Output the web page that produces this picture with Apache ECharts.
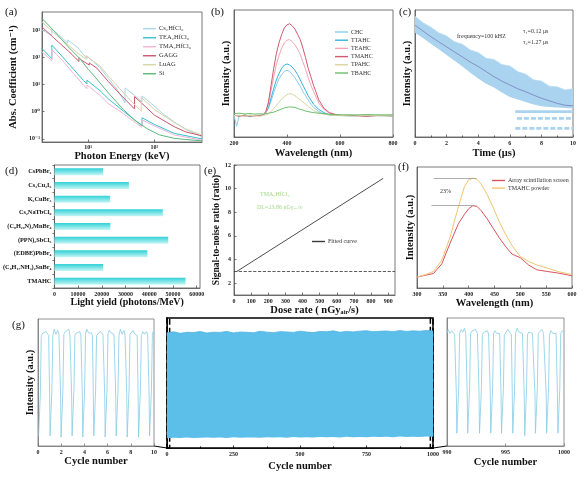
<!DOCTYPE html>
<html lang="en">
<head>
<meta charset="UTF-8">
<title>TMAHC scintillator figure</title>
<style>html,body{margin:0;padding:0;background:#fff;} #chart{width:586px;height:479px;}</style>
</head>
<body>
<div id="chart"></div>
<script src="https://cdn.jsdelivr.net/npm/echarts@6/dist/echarts.min.js"></script>
<script>
// ---------- (a) absorption coefficient, [keV, cm^-1] ----------
var absCs2HfCl6 = [[2,1000],[2.82,650],[2.82,1100],[4,520],[4.9,330],[4.9,430],[5.7,330],[5.7,390],[7,220],[8.5,125],[9.56,90],[9.56,112],[10.7,88],[10.7,100],[11.3,90],[11.3,98],[15,42],[20,17],[28,6],[36,2.1],[36,7.5],[50,4],[65,2.3],[65,3.8],[90,2],[130,0.9],[200,0.42],[300,0.22],[525,0.12]];
var absTEA2HfCl6 = [[2,210],[2.82,88],[2.82,280],[4,110],[6,36],[8.5,14],[9.56,10.5],[9.56,14.5],[10.7,11.5],[10.7,13],[11.3,12],[11.3,13],[15,6],[20,3],[34,1.05],[50,0.5],[65,0.3],[65,0.6],[100,0.34],[200,0.16],[525,0.1]];
var absTMA2HfCl6 = [[2,157],[2.82,75],[2.82,190],[4,80],[6,25],[8.5,9.5],[9.56,7],[9.56,9.5],[10.7,7.8],[10.7,8.7],[11.3,8],[11.3,8.6],[15,4],[20,2],[34,0.85],[50,0.42],[65,0.27],[65,0.5],[100,0.3],[200,0.14],[525,0.09]];
var absGAGG = [[2,1300],[3,520],[5,170],[7.24,70],[7.24,95],[7.93,78],[7.93,88],[8.38,80],[8.38,86],[10.37,52],[10.37,62],[13.5,40],[20,13],[30,4.5],[50.2,1.25],[50.2,3.6],[70,1.7],[100,0.75],[200,0.28],[300,0.18],[525,0.13]];
var absLuAG = [[2,2000],[3,800],[5,280],[7,140],[9.24,85],[9.24,115],[10.14,95],[10.14,108],[10.87,98],[10.87,105],[15,48],[20,21],[30,7],[45,2.4],[63.3,1.05],[63.3,3.4],[100,1.2],[200,0.4],[300,0.23],[525,0.14]];
var absSi = [[2,2700],[3,950],[5,240],[7.6,85],[10,36],[12,22],[20,5],[34,1.2],[50,0.5],[77,0.24],[120,0.14],[200,0.105],[300,0.095],[525,0.085]];

// ---------- (b) radioluminescence ----------
var wlB = [200,210,220,240,260,280,300,310,320,330,340,350,360,370,380,390,400,410,420,430,440,450,460,470,480,490,500,520,540,560,580,600,650,700,750,800];
var rlCHC   = [0.2,-10,0.5,-0.3,0.6,0.1,0.3,1,3,7,14,22,29,35,39,42,43,42,39,36,32,28,23,19,15,11,8,4,2,1,0.4,0.3,-0.3,0.4,0,0.3];
var rlTTAHC = [0.6,0.3,0,0.4,-0.5,0.3,0.5,1,3,8,17,26,34,40,45,48,49,48,46,43,39,34,29,24,19,15,11,6,3,1,0.5,0.2,0.5,0,0.4,-0.2];
var rlTEAHC = [0.3,0.5,0.6,-0.4,0.5,-0.2,0.4,1,3.5,11,24,37,49,57,64,69,71.5,72,70,67,63,58,51,44,36,29,23,12,6,2.5,1,0.4,0.6,-0.2,0.3,0.2];
var rlTMAHC = [0.5,0.2,-0.5,0.8,-0.3,0.4,0.2,1,4,13,29,45,59,69,77,83,86,87,85,82,77,72,64,55,45,37,29,15,7,3,1.5,0.5,0.3,-0.4,0.5,0];
var rlTPAHC = [0.4,0.1,0.2,-0.3,0.5,0.1,-0.4,0.5,1,2,4,7,10,13,16,18,20,21,20.5,19,17,15,13,11,9,7,5,3,1.5,0.8,0.3,0.4,-0.2,0.5,0.2,0];
var rlTBAHC = [2,2.3,2.5,1.8,2.2,1.6,2,1.5,2,2.5,3,3.5,4.5,5.5,6.5,7.5,8,8.5,8.2,8,7,6,5.5,4.5,4,3.5,3,2.5,2,1.5,1.2,1,0.8,1.2,0.9,1];

// ---------- (c) decay ----------
var tC       = [0,0.5,1,1.5,2,2.5,3,3.5,4,4.5,5,5.5,6,6.5,7,7.5,8,8.5,9,9.5,10];
var decayTop = [95,90,86.5,82,79.5,75,73,68.5,66.5,62,61,57,56,51.5,49.5,45,44,40,39.5,37,38];
var decayBot = [82,78,73.5,69,64.5,60,55.5,50.5,46,42,39,35,31.5,29.5,27.5,25.5,24.3,23.6,23.2,22.8,22.5];
var decayFit = [88,83.5,79,75,71,67,63,59,55.5,51.5,47.5,44,41,38,35.7,33,30.5,28.5,26.5,25,24.5];
var decayRows = [[6.35,20],[6.45,14.7],[6.35,6.8]];

// ---------- (d) light yield ----------
var catsD = ['CsPbBr₃','Cs₃Cu₂I₅','K₂CuBr₃','Cs₂NaTbCl₆','(C₈H₂₀N)₂MnBr₄','(PPN)₂SbCl₅','(EDBE)PbBr₄','(C₈H₁₇NH₃)₂SnBr₄','TMAHC'];
var lyD = [20500,31400,23500,45700,23600,48000,39200,20500,55300];

// ---------- (e) SNR vs dose rate ----------
var snrFit = [[17,3.0],[871,10.87]];
var snrThreshold = 3;

// ---------- (f) screen vs powder ----------
var wlF = [300,316,332,348,364,380,392,400,408,416,424,436,448,460,472,484,500,516,532,552,572,590,600];
var plPowder = [9,11,13.7,23,42,67,84,89.5,90.7,90,86,77,66,54,44,35,26,22,19,16.5,13.7,12,11];
var plArray  = [9,10.5,12,20,37,53,61,65.5,68,67.5,64,57,49,41,34,28,25,19,15,13.7,12.4,11,10];
var peakLines = [[328,412,68],[332,415,90.7]];

// ---------- (g) cycling ----------
var cycFirst = [[0.05,8],[0.12,7],[0.2,40],[0.28,86],[0.4,89],[0.55,88],[0.7,90],[0.85,89],[0.92,87],
 [1.0,40],[1.04,8],[1.16,7],[1.2,45],[1.28,87],[1.4,92],[1.55,88],[1.7,91],[1.8,88],[1.87,87],
 [1.95,40],[1.99,7],[2.11,7],[2.15,45],[2.23,88],[2.35,90],[2.5,89],[2.65,92],[2.75,88],[2.82,87],
 [2.9,40],[2.94,8],[3.06,8],[3.1,45],[3.18,87],[3.3,89],[3.45,88],[3.6,90],[3.7,87],
 [3.82,40],[3.86,7],[3.98,7],[4.02,45],[4.1,88],[4.2,92],[4.35,89],[4.5,88],[4.62,89],[4.69,87],
 [4.77,40],[4.81,8],[4.93,8],[4.97,45],[5.05,87],[5.2,88],[5.35,90],[5.5,89],[5.6,88],[5.67,87],
 [5.75,40],[5.79,7],[5.91,7],[5.95,45],[6.03,88],[6.15,91],[6.3,89],[6.45,90],[6.55,88],[6.62,87],
 [6.7,40],[6.74,8],[6.86,7],[6.9,45],[6.98,87],[7.1,92],[7.25,88],[7.4,91],[7.5,88],[7.57,87],
 [7.65,40],[7.69,7],[7.81,8],[7.85,45],[7.93,88],[8.05,89],[8.2,91],[8.35,88],[8.48,89],[8.55,87],
 [8.63,40],[8.67,7],[8.79,7],[8.83,45],[8.91,87],[9.05,90],[9.2,88],[9.35,90],[9.45,88],[9.5,87],
 [9.58,40],[9.62,8],[9.74,7],[9.78,45],[9.86,88],[9.93,90],[10,88]];
var cycLast = [[990,88],[990.1,91],[990.25,88],[990.4,90],[990.55,89],[990.65,87],
 [990.8,40],[990.84,10],[990.96,9],[991.0,45],[991.08,88],[991.2,91],[991.35,89],[991.5,92],[991.6,88],[991.65,87],
 [991.73,40],[991.77,10],[991.89,10],[991.93,45],[992.01,88],[992.15,90],[992.3,89],[992.45,91],[992.6,88],[992.66,87],
 [992.74,40],[992.78,10],[992.9,11],[992.94,45],[993.02,87],[993.15,89],[993.3,88],[993.45,90],[993.55,88],[993.62,87],
 [993.7,40],[993.74,10],[993.86,9],[993.9,45],[993.98,88],[994.1,90],[994.25,88],[994.4,89],[994.5,88],[994.54,87],
 [994.62,40],[994.66,10],[994.78,10],[994.82,45],[994.9,87],[995.05,88],[995.2,91],[995.35,89],[995.45,88],[995.5,87],
 [995.58,40],[995.62,10],[995.74,10],[995.78,45],[995.86,88],[996.0,92],[996.15,89],[996.3,90],[996.45,88],[996.52,87],
 [996.6,40],[996.64,8],[996.76,8],[996.8,45],[996.88,87],[997.0,89],[997.15,90],[997.3,88],[997.4,89],[997.44,87],
 [997.52,40],[997.56,10],[997.68,10],[997.72,45],[997.8,88],[997.95,89],[998.1,91],[998.25,88],[998.35,89],[998.4,87],
 [998.48,40],[998.52,10],[998.64,9],[998.68,45],[998.76,87],[998.9,90],[999.05,88],[999.2,89],[999.32,88],[999.36,87],
 [999.44,40],[999.48,10],[999.6,10],[999.64,45],[999.72,88],[999.85,90],[1000,89]];
var g2Cycles = [0,25,50,75,100,125,150,175,200,225,250,275,300,325,350,375,400,425,450,475,500,525,550,575,600,625,650,675,700,725,750,775,800,825,850,875,900,925,950,975,1000];
var g2Top = [88.6,89.4,88.2,89.0,88.8,89.6,88.4,89.1,88.9,89.7,88.5,89.2,89.0,88.6,89.8,89.1,88.7,89.5,89.3,88.9,89.9,89.2,88.8,89.6,89.4,90.1,89.0,89.7,89.3,89.9,90.2,89.4,89.8,90.0,89.5,90.3,89.7,90.1,89.8,90.4,90.0];
var g2Bot = [7.5,7.9,7.6,8.0,7.7,7.9,8.1,7.8,8.0,7.7,8.2,7.9,8.1,8.0,7.8,8.3,8.0,8.2,7.9,8.4,8.1,8.3,8.0,8.5,8.2,8.4,8.1,8.6,8.3,8.5,8.2,8.7,8.4,8.6,8.3,8.8,8.5,8.7,8.4,8.9,8.6];
var zoomWindows = [[0,10],[990,1000]];

// ---------- layout ----------
var GA = {left:42, top:12, width:160, height:130};
var GB = {left:234, top:10, width:159, height:127};
var GC = {left:415, top:10, width:158, height:127};
var GD = {left:50, top:165, width:150, height:123};
var GE = {left:234, top:165, width:161, height:130};
var GF = {left:417, top:167, width:155, height:121};
var G1 = {left:38, top:319, width:116, height:127};
var G2 = {left:167, top:318, width:266, height:130};
var G3 = {left:447, top:318, width:117, height:128};

var SERIF = '"Liberation Serif", "DejaVu Serif", serif';
var SUP = {'-1':'⁻¹','0':'⁰','1':'¹','2':'²','3':'³'};

function merge(base, extra) {
    for (var k in extra) {
        var v = extra[k];
        if (v && typeof v === 'object' && !Array.isArray(v) && base[k] && typeof base[k] === 'object' && !(v instanceof echarts.graphic.LinearGradient)) merge(base[k], v);
        else base[k] = v;
    }
    return base;
}
function grid(g, col, w) {
    return merge({show:true, borderColor: col || '#555', borderWidth: w || 0.8, containLabel:false}, g);
}
function plain(v) { return String(v); }
function axis(gi, extra, col) {
    col = col || '#555';
    return merge({
        type:'value', gridIndex: gi,
        axisLine:{show:true, onZero:false, lineStyle:{color:col, width:0.8}},
        axisTick:{show:true, inside:true, length:2.5, lineStyle:{color:col, width:0.8}},
        axisLabel:{show:true, fontSize:6, fontWeight:'bold', fontFamily:SERIF, color:'#222', margin:3},
        splitLine:{show:false},
        nameLocation:'middle',
        nameTextStyle:{fontSize:10.5, fontWeight:'bold', fontFamily:SERIF, color:'#111'}
    }, extra || {});
}
var noLab = {axisLabel:{show:false}, axisTick:{show:false}};
function pair(xs, ys) { return xs.map(function (x, i) { return [x, ys[i]]; }); }
function line(name, xi, data, color, w) {
    return {name:name, type:'line', xAxisIndex:xi, yAxisIndex:xi, data:data, showSymbol:false,
        lineStyle:{color:color, width:w || 1}, itemStyle:{color:color}, silent:true};
}
// filled band between two envelopes, drawn as one polygon through the axes' scales
function band(xi, xs, top, bot, color) {
    return {type:'custom', xAxisIndex:xi, yAxisIndex:xi, silent:true, data:[[xs[0], bot[0]]],
        renderItem:function (params, api) {
            var pts = [], i;
            for (i = 0; i < xs.length; i++) pts.push(api.coord([xs[i], top[i]]));
            for (i = xs.length - 1; i >= 0; i--) pts.push(api.coord([xs[i], bot[i]]));
            return {type:'polygon', shape:{points:pts}, style:{fill:color}};
        }};
}
function legend(names, left, top, rowH, gap, fs) {
    return {data:names, left:left, top:top, orient:'vertical', icon:'rect', itemWidth:13, itemHeight:1.4,
        itemGap:gap, padding:0, selectedMode:false,
        textStyle:{fontSize:fs || 6, fontFamily:SERIF, color:'#333', lineHeight:rowH, padding:[0,0,0,-2]}};
}
function txt(s, left, top, fs, color, weight) {
    return {type:'text', left:left, top:top, silent:true,
        style:{text:s, fontSize:fs, fontFamily:SERIF, fontWeight:weight || 'normal', fill:color || '#111'}};
}
function logLab(v) { var e = Math.round(Math.log(v) / Math.LN10); return '10' + (SUP[e] || ''); }

var series = [];
// (a)
series.push(line('Cs₂HfCl₆', 0, absCs2HfCl6, '#a7d6ea'));
series.push(line('TEA₂HfCl₆', 0, absTEA2HfCl6, '#35c2cf'));
series.push(line('TMA₂HfCl₆', 0, absTMA2HfCl6, '#efb5d7'));
series.push(line('GAGG', 0, absGAGG, '#c9566e'));
series.push(line('LuAG', 0, absLuAG, '#d7d4a6'));
series.push(line('Si', 0, absSi, '#5cb97b'));
// (b)
series.push(line('CHC', 1, pair(wlB, rlCHC), '#8fcdea'));
series.push(line('TTAHC', 1, pair(wlB, rlTTAHC), '#36b3dc'));
series.push(line('TEAHC', 1, pair(wlB, rlTEAHC), '#f1a6b9'));
series.push(line('TMAHC', 1, pair(wlB, rlTMAHC), '#d05a70'));
series.push(line('TPAHC', 1, pair(wlB, rlTPAHC), '#d9d59e'));
series.push(line('TBAHC', 1, pair(wlB, rlTBAHC), '#6cbf6c'));
// (c)
series.push(band(2, tC, decayTop, decayBot, '#a9d3ee'));
series.push(line('cTop', 2, pair(tC, decayTop), '#b9dcf2', 0.8));
decayRows.forEach(function (r, i) {
    var s = line('cRow' + i, 2, [[r[0], r[1]], [10, r[1]]], '#a9d3ee', 2.6);
    if (i > 0) s.lineStyle.type = [5, 2];
    series.push(s);
});
series.push(line('cFit', 2, pair(tC, decayFit), '#7e88c2', 0.9));
// (d)
series.push({name:'Light yield', type:'bar', xAxisIndex:3, yAxisIndex:3, data:lyD, barWidth:7, silent:true,
    itemStyle:{color:new echarts.graphic.LinearGradient(0,0,0,1,[{offset:0,color:'#2fd1d6'},{offset:1,color:'#c6f6f6'}])}});
// (e)
var eFit = line('Fitted curve', 4, snrFit, '#3a3a3a', 0.9);
eFit.markLine = {silent:true, symbol:['none','none'], label:{show:false},
    lineStyle:{type:'dashed', color:'#333', width:0.8}, data:[{yAxis:snrThreshold}]};
series.push(eFit);
// (f)
var fArr = line('Array scintillation screen', 5, pair(wlF, plArray), '#d8535f', 1);
var fPow = line('TMAHC powder', 5, pair(wlF, plPowder), '#f2c56e', 1);
fArr.markLine = {silent:true, symbol:['none','none'], label:{show:false}, lineStyle:{type:'solid', color:'#9a9a9a', width:0.8},
    data:peakLines.map(function (p) { return [{coord:[p[0], p[2]]}, {coord:[p[1], p[2]]}]; })};
series.push(fArr, fPow);
// (g)
series.push(line('g1', 6, cycFirst, '#86cce6', 0.8));
series.push(band(7, g2Cycles, g2Top, g2Bot, '#5cbfea'));
var gTop = line('gTop', 7, pair(g2Cycles, g2Top), '#4cb2e2', 0.8);
gTop.markArea = {silent:true, itemStyle:{color:'rgba(0,0,0,0)', borderColor:'#000', borderWidth:1.5, borderType:'dashed'},
    data:zoomWindows.map(function (w) { return [{coord:[w[0], 0]}, {coord:[w[1], 100]}]; })};
series.push(gTop);
series.push(line('g3', 8, cycLast, '#86cce6', 0.8));

var option = {
    animation:false,
    backgroundColor:'#fff',
    grid:[grid(GA), grid(GB), grid(GC), grid(GD), grid(GE), grid(GF), grid(G1, '#777'), grid(G2, '#000', 1.5), grid(G3, '#777')],
    xAxis:[
        axis(0, {type:'log', min:2, max:525, name:'Photon Energy (keV)', nameGap:7,
            axisLabel:{formatter:logLab, showMinLabel:false, showMaxLabel:false, margin:2}}),
        axis(1, {min:200, max:800, interval:200, name:'Wavelength (nm)', nameGap:11}),
        axis(2, {min:0, max:10, interval:2, name:'Time (μs)', nameGap:11, minorTick:{show:true, splitNumber:2, length:1.5}}),
        axis(3, {min:0, max:61400, splitNumber:6, name:'Light yield (photons/MeV)', nameGap:7, nameTextStyle:{fontSize:10},
            axisLabel:{showMaxLabel:false, formatter:plain}}),
        axis(4, {min:0, max:940, splitNumber:9, name:'Dose rate ( nGyₐᵢᵣ/s)', nameGap:7, axisLabel:{showMaxLabel:false, formatter:plain}}),
        axis(5, {min:300, max:600, interval:50, name:'Wavelength (nm)', nameGap:9}),
        axis(6, {min:0, max:10, interval:2, name:'Cycle number', nameGap:8}, '#777'),
        axis(7, {min:0, max:1000, interval:250, name:'Cycle number', nameGap:13, axisLabel:{formatter:plain},
            minorTick:{show:true, splitNumber:2, length:1.5, lineStyle:{color:'#000'}}}, '#000'),
        axis(8, {min:990, max:1000, interval:5, name:'Cycle number', nameGap:11, axisLabel:{formatter:plain}}, '#777')
    ],
    yAxis:[
        axis(0, {type:'log', min:0.077, max:4600, name:'Abs. Coefficient (cm⁻¹)', nameGap:23,
            axisLabel:{formatter:logLab, showMinLabel:false, showMaxLabel:false, margin:2}}),
        axis(1, merge({min:-20, max:100, name:'Intensity (a.u.)', nameGap:2}, noLab)),
        axis(2, merge({min:0, max:100, name:'Intensity (a.u.)', nameGap:2}, noLab)),
        axis(3, {type:'category', data:catsD, inverse:true, axisTick:{inside:false, length:2},
            axisLabel:{fontSize:6.3, margin:3, color:'#111'}}),
        axis(4, {min:1, max:12, splitNumber:5, name:'Signal-to-noise ratio (ratio)', nameGap:9, nameTextStyle:{fontSize:9.5},
            axisLabel:{showMinLabel:false}}),
        axis(5, merge({min:0, max:100, name:'Intensity (a.u.)', nameGap:1}, noLab)),
        axis(6, merge({min:0, max:100, name:'Intensity (a.u.)', nameGap:2}, noLab), '#777'),
        axis(7, merge({min:0, max:100}, noLab), '#000'),
        axis(8, merge({min:0, max:100}, noLab), '#777')
    ],
    legend:[
        legend(['Cs₂HfCl₆','TEA₂HfCl₆','TMA₂HfCl₆','GAGG','LuAG','Si'], 143, 25, 7.5, 1.5, 6.5),
        legend(['CHC','TTAHC','TEAHC','TMAHC','TPAHC','TBAHC'], 335, 28.5, 7, 1.2, 6),
        legend(['Fitted curve'], 312, 238, 7, 1, 6),
        legend(['Array scintillation screen','TMAHC powder'], 492, 177, 7, 0.6, 6)
    ],
    graphic:[
        txt('(a)', 5, 7, 11), txt('(b)', 211, 7, 11), txt('(c)', 399, 7, 11),
        txt('(d)', 5, 166, 11), txt('(e)', 204, 166, 11), txt('(f)', 398, 162, 11), txt('(g)', 12, 320, 11),
        txt('frequency=100 kHZ', 457, 33, 6, '#333'),
        txt('τ₁=0.12 μs', 523, 28.5, 6, '#333'),
        txt('τ₂=1.27 μs', 523, 39.5, 6, '#333'),
        txt('TMA₂HfCl₆', 260, 191, 6, '#9fd98a'),
        txt('DL=23.86 nGyₐᵢᵣ/s', 257, 204, 6, '#9fd98a'),
        txt('23%', 440, 188, 6, '#333'),
        {type:'line', silent:true, shape:{x1:G1.left + G1.width, y1:G1.top + G1.height, x2:G2.left, y2:G2.top + G2.height},
            style:{stroke:'#000', lineWidth:1}},
        {type:'line', silent:true, shape:{x1:G2.left + G2.width, y1:G2.top + G2.height, x2:G3.left, y2:G3.top + G3.height},
            style:{stroke:'#000', lineWidth:1}}
    ],
    series:series
};

var myChart = echarts.init(document.getElementById('chart'));
myChart.setOption(option);
</script>
</body>
</html>
